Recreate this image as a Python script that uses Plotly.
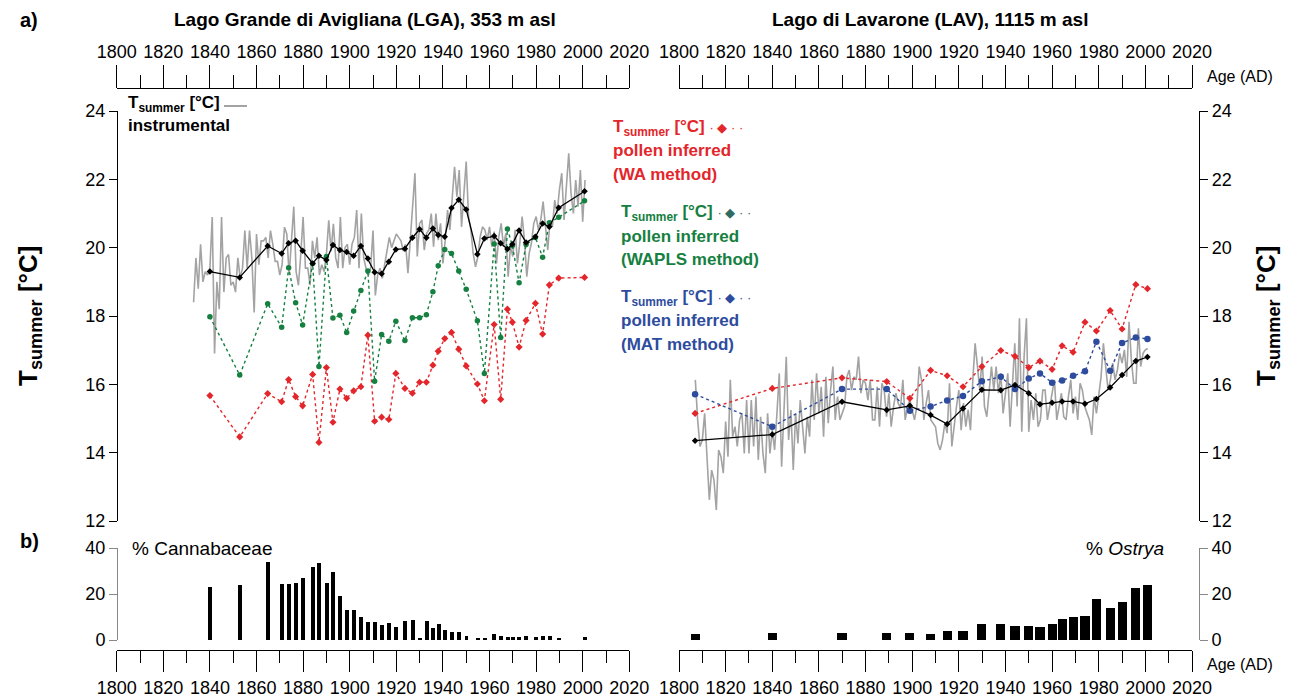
import plotly.graph_objects as go

W, H = 1298, 699
def px(x): return x / W
def py(y): return 1 - y / H

# ---------------- DATA ----------------
lga_years = [1840.0, 1852.8, 1864.8, 1870.8, 1873.8, 1876.8, 1879.8, 1884.1, 1886.8, 1890.0,
             1892.8, 1895.8, 1898.7, 1901.7, 1904.8, 1907.8, 1910.7, 1913.7, 1916.8, 1919.8,
             1923.7, 1926.9, 1930.0, 1932.9, 1935.7, 1938.0, 1940.8, 1943.7, 1946.8, 1950.0,
             1954.8, 1957.8, 1962.0, 1964.8, 1967.7, 1969.8, 1972.7, 1975.7, 1979.7, 1982.8,
             1985.7, 1989.7, 2000.8]
lga_instr_smooth = [19.30, 19.13, 20.05, 19.83, 20.13, 20.20, 19.91, 19.54, 19.76, 19.64,
                    20.08, 19.93, 19.87, 19.76, 20.05, 19.68, 19.28, 19.24, 19.59, 19.95,
                    19.97, 20.29, 20.54, 20.29, 20.56, 20.37, 20.32, 21.16, 21.40, 21.12,
                    19.81, 20.27, 20.34, 20.13, 19.96, 20.10, 20.50, 20.15, 20.32, 20.71,
                    20.61, 21.17, 21.65]
lga_wapls = [17.98, 16.27, 18.36, 17.67, 19.41, 18.39, 17.74, 19.54, 16.52, 19.74,
             17.94, 18.02, 17.52, 18.15, 18.75, 19.32, 16.09, 17.46, 17.26, 17.85,
             17.28, 17.95, 17.95, 18.04, 18.71, 19.47, 19.95, 19.83, 19.32, 18.78,
             17.86, 16.32, 20.11, 17.37, 20.55, 20.06, 18.97, 20.09, 20.30, 19.72,
             20.73, 20.89, 21.37]
lga_wa = [15.67, 14.46, 15.73, 15.49, 16.14, 15.64, 15.37, 16.29, 14.30, 16.49,
          14.89, 15.86, 15.59, 15.81, 15.93, 17.44, 14.92, 15.04, 14.97, 16.32,
          15.88, 15.74, 16.06, 16.06, 16.56, 16.97, 17.34, 17.52, 17.03, 16.54,
          16.01, 15.52, 17.75, 15.56, 18.20, 17.82, 17.09, 17.87, 18.37, 17.47,
          18.91, 19.11, 19.13]
cannabaceae = [23.1, 23.7, 33.9, 24.5, 24.5, 24.7, 26.9, 31.6, 33.3, 25.0,
               29.5, 19.1, 13.1, 13.1, 10.0, 7.9, 7.9, 6.4, 7.3, 5.8,
               8.2, 8.9, 0.7, 8.2, 5.1, 6.8, 4.2, 3.6, 3.3, 1.7,
               0.6, 0.6, 2.5, 1.7, 1.3, 1.3, 1.3, 1.7, 1.3, 1.7,
               1.7, 0.5, 1.5]

lga_instr_start = 1833
lga_instr = [18.4, 19.7, 18.8, 20.1, 19.0, 19.3, 19.2, 19.4, 20.9, 16.9,
             19.0, 18.2, 20.9, 18.7, 19.7, 19.8, 18.9, 19.0, 18.7, 19.7,
             19.1, 19.4, 20.5, 19.4, 20.5, 19.7, 18.1, 20.4, 19.5, 20.2,
             20.2, 20.3, 19.7, 20.5, 20.1, 19.6, 19.6, 19.2, 19.5, 20.6,
             20.4, 19.2, 20.2, 21.2, 19.3, 18.9, 19.8, 20.9, 19.4, 19.4,
             18.9, 20.2, 19.7, 20.3, 19.2, 19.5, 19.3, 19.8, 20.8, 19.9,
             20.7, 19.7, 19.4, 20.9, 19.4, 20.0, 20.1, 19.5, 20.1, 20.3,
             21.1, 19.4, 21.0, 19.7, 19.4, 19.2, 19.4, 20.5, 18.6, 19.2,
             19.4, 19.1, 19.5, 19.9, 20.3, 20.0, 20.2, 20.4, 20.3, 20.2,
             19.9, 20.1,
             19.25, 20.22, 21.0, 22.18, 19.74, 20.71, 20.81, 19.93, 20.42, 20.52,
             21.0, 20.03, 21.0, 20.22, 20.71, 19.54, 20.22, 21.1, 20.52, 21.35,
             22.37, 21.49, 22.27, 20.61, 21.49, 22.52, 20.91, 20.52, 19.83, 19.44,
             19.74, 20.32, 20.61, 20.52, 20.22, 20.61, 20.03, 20.47, 19.54, 20.32,
             20.71, 20.03, 20.42, 19.15, 20.03, 19.74, 20.52, 19.54, 20.13, 20.91,
             20.22, 19.15, 19.83, 20.13, 20.71, 20.91, 20.52, 20.81, 21.35, 20.52,
             19.93, 20.81, 20.61, 21.39, 21.0, 21.69, 22.18, 20.81, 21.78, 22.76,
             21.59, 21.0, 21.98, 21.2, 22.27, 20.76, 21.98]

lav_years = [1806.9, 1840.0, 1869.9, 1889.1, 1899.0, 1907.9, 1915.0, 1921.8, 1929.9, 1938.0,
             1944.1, 1950.0, 1954.8, 1960.0, 1964.3, 1969.0, 1974.1, 1979.0, 1984.9, 1990.0,
             1995.9, 2000.9]
lav_instr_smooth = [14.35, 14.53, 15.49, 15.25, 15.37, 15.10, 14.84, 15.29, 15.84, 15.83,
                    15.98, 15.74, 15.42, 15.46, 15.50, 15.50, 15.43, 15.57, 15.91, 16.27,
                    16.68, 16.80]
lav_wa = [15.15, 15.88, 16.19, 16.08, 15.59, 16.41, 16.25, 15.93, 16.52, 16.99,
          16.82, 16.49, 16.68, 16.44, 17.13, 16.94, 17.82, 17.56, 18.16, 17.62,
          18.92, 18.80]
lav_mat = [15.71, 14.76, 15.86, 15.86, 15.23, 15.35, 15.53, 15.66, 16.09, 16.22,
           15.86, 16.17, 16.32, 16.05, 16.11, 16.25, 16.38, 17.25, 16.40, 17.21,
           17.37, 17.33]
ostrya = [2.5, 3.0, 3.0, 3.0, 3.0, 2.5, 4.0, 4.0, 7.0, 7.0,
          6.0, 6.0, 5.5, 7.0, 9.0, 10.0, 10.5, 18.0, 14.0, 16.5,
          22.5, 24.0]

lav_instr_start = 1807
lav_instr = [16.13, 14.96, 14.18, 14.37, 15.15, 13.88, 12.62, 13.49, 13.2, 12.32,
             14.08, 13.88, 13.4, 14.91, 13.88, 16.13, 14.47, 14.76, 14.18, 14.96,
             15.15, 13.98, 15.54, 13.98, 15.54, 14.18, 15.64, 13.79, 15.05, 13.98,
             13.4, 15.15, 13.98, 14.66, 14.08, 15.15, 16.32, 13.59, 15.35, 16.81,
             14.37, 15.25, 13.49, 15.15, 14.27, 15.54, 14.76, 13.98, 15.05, 14.47,
             16.13, 14.96, 16.32, 15.15, 15.93, 14.47, 16.22, 14.86, 15.83, 16.52,
             14.96, 15.64, 14.96, 15.15, 15.35, 16.22, 16.42, 15.83, 16.22, 16.13,
             16.81, 15.74, 16.13, 16.03, 15.54, 16.13, 14.96, 14.96, 15.93, 14.76,
             16.03, 15.83, 15.05, 15.74, 14.76, 15.35, 15.74, 15.45, 15.3, 16.13,
             14.96, 15.35, 15.54, 15.25, 14.96, 15.35, 16.52, 16.13, 14.96, 15.45,
             15.83, 14.96, 14.86, 14.76,
             14.27, 14.08, 14.37, 14.86, 14.57, 16.03, 14.18, 14.86, 15.35, 15.83,
             14.66, 15.45, 14.76, 15.25, 14.66, 16.13, 17.2, 16.52, 15.83, 16.81,
             15.35, 15.05, 15.83, 16.52, 15.83, 16.52, 15.74, 16.32, 15.15, 15.83,
             16.32, 14.76, 16.13, 17.2, 15.35, 17.93, 14.61, 16.81, 17.93, 14.61,
             15.54, 14.96, 15.74, 14.76, 14.96, 15.83, 15.83, 14.96, 15.35, 15.74,
             16.13, 14.96, 15.35, 15.74, 15.05, 14.96, 15.64, 16.13, 15.15, 15.64,
             14.96, 16.03, 15.83, 15.35, 15.15, 14.96, 14.52, 15.64, 15.15, 15.74,
             16.22, 17.2, 16.52, 15.83, 16.13, 16.62, 16.13, 16.42, 16.91, 16.62,
             17.01, 16.22, 17.83, 16.71, 16.03, 16.03, 17.64, 16.52, 16.91, 17.01,
             17.05]

x_range = [1800, 2020]
temp_range = [12, 24]
pct_range = [0, 40]
temp_ticks = [12, 14, 16, 18, 20, 22, 24]
pct_ticks = [0, 20, 40]

# ---------------- STYLE ----------------
FONT = "Liberation Sans, Arial, sans-serif"
RED = "#e3262b"
GREEN = "#15803f"
BLUE = "#2e4c9e"
GREY = "#a3a3a3"

lga_instr_years = [lga_instr_start + i for i in range(len(lga_instr))]
lav_instr_years = [lav_instr_start + i for i in range(len(lav_instr))]

fig = go.Figure()

# LGA main panel
fig.add_trace(go.Scatter(x=lga_instr_years, y=lga_instr, mode="lines",
                         line=dict(color=GREY, width=1.6), xaxis="x", yaxis="y"))
fig.add_trace(go.Scatter(x=lga_years, y=lga_wa, mode="lines+markers",
                         line=dict(color=RED, width=1.4, dash="dot"),
                         marker=dict(symbol="diamond", size=5.5, color=RED), xaxis="x", yaxis="y"))
fig.add_trace(go.Scatter(x=lga_years, y=lga_wapls, mode="lines+markers",
                         line=dict(color=GREEN, width=1.4, dash="dot"),
                         marker=dict(symbol="circle", size=5.5, color=GREEN), xaxis="x", yaxis="y"))
fig.add_trace(go.Scatter(x=lga_years, y=lga_instr_smooth, mode="lines+markers",
                         line=dict(color="black", width=1.3),
                         marker=dict(symbol="diamond", size=5, color="black"), xaxis="x", yaxis="y"))

# LAV main panel
fig.add_trace(go.Scatter(x=lav_instr_years, y=lav_instr, mode="lines",
                         line=dict(color=GREY, width=1.6), xaxis="x2", yaxis="y2"))
fig.add_trace(go.Scatter(x=lav_years, y=lav_wa, mode="lines+markers",
                         line=dict(color=RED, width=1.4, dash="dot"),
                         marker=dict(symbol="diamond", size=5.5, color=RED), xaxis="x2", yaxis="y2"))
fig.add_trace(go.Scatter(x=lav_years, y=lav_mat, mode="lines+markers",
                         line=dict(color=BLUE, width=1.4, dash="dot"),
                         marker=dict(symbol="circle", size=6.5, color=BLUE), xaxis="x2", yaxis="y2"))
fig.add_trace(go.Scatter(x=lav_years, y=lav_instr_smooth, mode="lines+markers",
                         line=dict(color="black", width=1.3),
                         marker=dict(symbol="diamond", size=5, color="black"), xaxis="x2", yaxis="y2"))

# bars
fig.add_trace(go.Bar(x=lga_years, y=cannabaceae, width=1.7, marker=dict(color="black", line=dict(width=0)),
                     xaxis="x7", yaxis="y7"))
fig.add_trace(go.Bar(x=lav_years, y=ostrya, width=3.9, marker=dict(color="black", line=dict(width=0)),
                     xaxis="x8", yaxis="y8"))

# invisible carriers so that the free age axes are drawn
for xa, ya in [("x3", "y"), ("x4", "y"), ("x5", "y2"), ("x6", "y2")]:
    fig.add_trace(go.Scatter(x=x_range, y=[None, None], mode="lines", hoverinfo="skip",
                             line=dict(width=0), xaxis=xa, yaxis=ya))

L_DOM = [px(116.7), px(629.3)]
R_DOM = [px(679), px(1192)]
MAIN_DOM = [py(521), py(111)]
BAR_DOM = [py(640), py(548)]

tickfont = dict(family=FONT, size=18, color="black")

def hidden_x(dom, anchor):
    return dict(domain=dom, range=x_range, visible=False, anchor=anchor, fixedrange=True)

def age_axis(dom, side, pos, overlay, tl, mtl):
    return dict(domain=dom, range=x_range, anchor="free", position=pos, side=side,
                overlaying=overlay, showline=True, linecolor="black", linewidth=1.2,
                ticks="outside", tickmode="linear", tick0=1800, dtick=20, ticklen=tl,
                tickcolor="black", tickwidth=1.2, tickfont=tickfont, showgrid=False, zeroline=False,
                minor=dict(tick0=1800, dtick=10, ticklen=mtl, ticks="outside", tickcolor="black",
                           tickwidth=1.2, showgrid=False),
                fixedrange=True)

fig.update_layout(
    autosize=True, margin=dict(l=0, r=0, t=0, b=0, pad=0, autoexpand=False),
    paper_bgcolor="white", plot_bgcolor="rgba(0,0,0,0)", showlegend=False,
    font=dict(family=FONT, color="black"),
    bargap=0,
    xaxis=hidden_x(L_DOM, "y"),
    xaxis2=hidden_x(R_DOM, "y2"),
    xaxis3=age_axis(L_DOM, "top", py(88), "x", 23, 13),
    xaxis4=age_axis(L_DOM, "bottom", py(650), "x", 21, 12),
    xaxis5=age_axis(R_DOM, "top", py(88), "x2", 23, 13),
    xaxis6=age_axis(R_DOM, "bottom", py(650), "x2", 21, 12),
    xaxis7=hidden_x(L_DOM, "y7"),
    xaxis8=hidden_x(R_DOM, "y8"),
    yaxis=dict(domain=MAIN_DOM, range=temp_range, anchor="free", position=px(117), side="left",
               showline=True, linecolor="black", linewidth=1.2, tickvals=temp_ticks,
               ticks="outside", ticklen=8, tickcolor="black", tickfont=tickfont,
               showgrid=False, zeroline=False, fixedrange=True),
    yaxis2=dict(domain=MAIN_DOM, range=temp_range, anchor="free", position=px(1199), side="right",
                showline=True, linecolor="black", linewidth=1.2, tickvals=temp_ticks,
                ticks="outside", ticklen=8, tickcolor="black", tickfont=tickfont,
                showgrid=False, zeroline=False, fixedrange=True),
    yaxis7=dict(domain=BAR_DOM, range=pct_range, anchor="free", position=px(117), side="left",
                showline=True, linecolor="#888", linewidth=1, tickvals=pct_ticks,
                ticks="outside", ticklen=8, tickcolor="#888", tickfont=tickfont,
                showgrid=False, zeroline=False, fixedrange=True),
    yaxis8=dict(domain=BAR_DOM, range=pct_range, anchor="free", position=px(1199), side="right",
                showline=True, linecolor="#888", linewidth=1, tickvals=pct_ticks,
                ticks="outside", ticklen=8, tickcolor="#888", tickfont=tickfont,
                showgrid=False, zeroline=False, fixedrange=True),
)

def ann(x, y, text, size=17, color="black", xanchor="left", yanchor="middle", angle=0):
    fig.add_annotation(x=px(x), y=py(y), xref="paper", yref="paper", text=text, showarrow=False,
                       xanchor=xanchor, yanchor=yanchor, textangle=angle,
                       font=dict(family=FONT, size=size, color=color))

ann(18, 20, "<b>a)</b>", size=20)
ann(18, 541, "<b>b)</b>", size=20)
ann(365, 20, "<b>Lago Grande di Avigliana (LGA), 353 m asl</b>", size=19, xanchor="center")
ann(930, 20, "<b>Lago di Lavarone (LAV), 1115 m asl</b>", size=19, xanchor="center")
ann(1240, 77, "Age (AD)", size=16, xanchor="center")
ann(1240, 664, "Age (AD)", size=16, xanchor="center")

ylab = "<b>T<sub>summer</sub> [°C]</b>"
ann(30, 316, ylab, size=26, xanchor="center", angle=-90)
ann(1268, 316, ylab, size=26, xanchor="center", angle=-90)

# instrumental legend
ann(126, 104, "<b>T<sub>summer</sub> [°C]</b>", size=17)
fig.add_shape(type="line", xref="paper", yref="paper", x0=px(224), x1=px(247), y0=py(106), y1=py(106),
              line=dict(color=GREY, width=2))
ann(126, 126, "<b>instrumental</b>", size=17)

# pollen legends
for (x0, y0, col, dcol, meth) in [(611, 128, RED, RED, "(WA method)"),
                                   (619, 213, GREEN, "#2f6b5f", "(WAPLS method)"),
                                   (619, 298, BLUE, BLUE, "(MAT method)")]:
    ann(x0, y0, "<b>T<sub>summer</sub> [°C]</b> <span style='color:%s;font-size:13px'>· ◆ · ·</span>" % dcol,
        size=17, color=col)
    ann(x0, y0 + 23, "<b>pollen inferred</b>", size=17, color=col)
    ann(x0, y0 + 46, "<b>%s</b>" % meth, size=17, color=col)

ann(130, 548, "% Cannabaceae", size=19)
ann(1166, 548, "% <i>Ostrya</i>", size=19, xanchor="right")

post = ("document.documentElement.style.margin='0';document.body.style.margin='0';"
        "document.documentElement.style.overflow='hidden';document.body.style.overflow='hidden';"
        "var gd=document.getElementById('{plot_id}');if(gd){Plotly.Plots.resize(gd);}")
fig.write_html("out.html", config={"displayModeBar": False, "responsive": True},
               default_width="100vw", default_height="100vh", post_script=post)
